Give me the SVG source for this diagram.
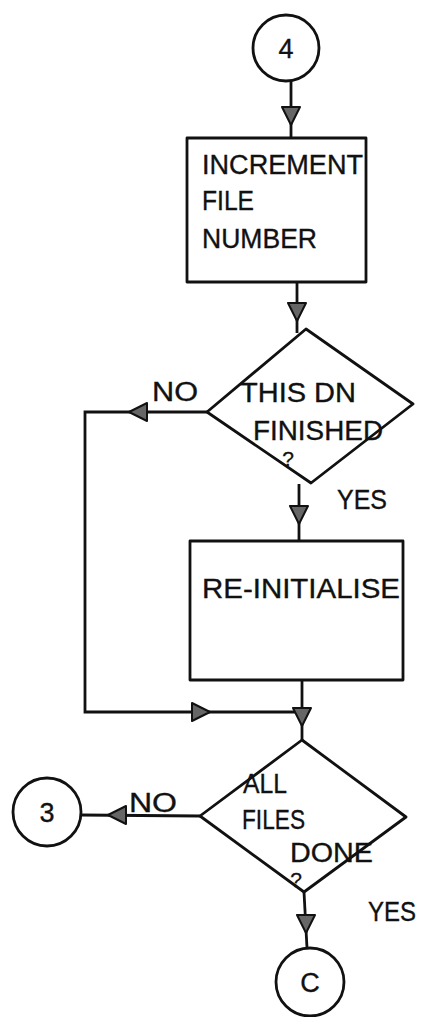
<svg xmlns="http://www.w3.org/2000/svg" xmlns:xlink="http://www.w3.org/1999/xlink" width="422" height="1017" viewBox="0 0 422 1017">
<style>
.shape{fill:none;stroke:#111;stroke-width:2.8;stroke-linejoin:round}
.line{fill:none;stroke:#111;stroke-width:2.8}
.ah{fill:#666;stroke:#111;stroke-width:2;stroke-linejoin:round}
.t{font-family:"Liberation Sans",Arial,sans-serif;font-size:27px;fill:#111;stroke:#111;stroke-width:0.35}
.q{font-family:"Liberation Sans",Arial,sans-serif;font-size:21px;fill:#111;stroke:#111;stroke-width:0.3}
</style>
<defs>
<path id="ah" class="ah" d="M-9,-9 L9,0 L-9,9 Z"/>
</defs>
<rect width="422" height="1017" fill="#fff"/>
<g id="connectors">
<path class="line" d="M291,81 L291,138"/>
<path class="line" d="M297,282 L297,333"/>
<path class="line" d="M299,484 L299,541"/>
<path class="line" d="M207,412 L85,412 L85,712 L302,712"/>
<path class="line" d="M302,680 L302,740"/>
<path class="line" d="M200,816 L81,815"/>
<path class="line" d="M304,892 L307,948"/>
<use xlink:href="#ah" transform="translate(291,116) rotate(90)"/>
<use xlink:href="#ah" transform="translate(297,312) rotate(90)"/>
<use xlink:href="#ah" transform="translate(299,515) rotate(90)"/>
<use xlink:href="#ah" transform="translate(138,412) rotate(180)"/>
<use xlink:href="#ah" transform="translate(201,712)"/>
<use xlink:href="#ah" transform="translate(302,717) rotate(90)"/>
<use xlink:href="#ah" transform="translate(117,815) rotate(180)"/>
<use xlink:href="#ah" transform="translate(306,924) rotate(90)"/>
</g>
<g id="node-4">
<circle class="shape" cx="286" cy="48" r="33"/>
<text class="t" x="286" y="58" text-anchor="middle">4</text>
</g>
<g id="node-increment">
<rect class="shape" x="187" y="138" width="179" height="144"/>
<text class="t" x="202" y="174" textLength="161" lengthAdjust="spacingAndGlyphs">INCREMENT</text>
<text class="t" x="202" y="210" textLength="52" lengthAdjust="spacingAndGlyphs">FILE</text>
<text class="t" x="202" y="248" textLength="115" lengthAdjust="spacingAndGlyphs">NUMBER</text>
</g>
<g id="node-dn-finished">
<polygon class="shape" points="306,329 413,404 311,483 207,412"/>
<text class="t" x="240" y="402" textLength="116" lengthAdjust="spacingAndGlyphs">THIS DN</text>
<text class="t" x="253" y="440" textLength="130" lengthAdjust="spacingAndGlyphs">FINISHED</text>
<text class="q" x="288" y="466" text-anchor="middle">?</text>
<text class="t" x="152" y="401" textLength="46" lengthAdjust="spacingAndGlyphs">NO</text>
<text class="t" x="337" y="509" textLength="50" lengthAdjust="spacingAndGlyphs">YES</text>
</g>
<g id="node-reinit">
<rect class="shape" x="190" y="541" width="213" height="139"/>
<text class="t" x="202" y="598" textLength="198" lengthAdjust="spacingAndGlyphs">RE-INITIALISE</text>
</g>
<g id="node-all-files">
<polygon class="shape" points="302,740 406,817 304,892 200,816"/>
<text class="t" x="243" y="793" textLength="44" lengthAdjust="spacingAndGlyphs">ALL</text>
<text class="t" x="242" y="829" textLength="63" lengthAdjust="spacingAndGlyphs">FILES</text>
<text class="t" x="290" y="862" textLength="83" lengthAdjust="spacingAndGlyphs">DONE</text>
<text class="q" x="296" y="887" text-anchor="middle">?</text>
<text class="t" x="129" y="812" textLength="48" lengthAdjust="spacingAndGlyphs">NO</text>
<text class="t" x="368" y="921" textLength="48" lengthAdjust="spacingAndGlyphs">YES</text>
</g>
<g id="node-3">
<circle class="shape" cx="47" cy="812" r="34"/>
<text class="t" x="47" y="822" text-anchor="middle">3</text>
</g>
<g id="node-c">
<circle class="shape" cx="310" cy="982" r="34"/>
<text class="t" x="310" y="992" text-anchor="middle">C</text>
</g>
</svg>
